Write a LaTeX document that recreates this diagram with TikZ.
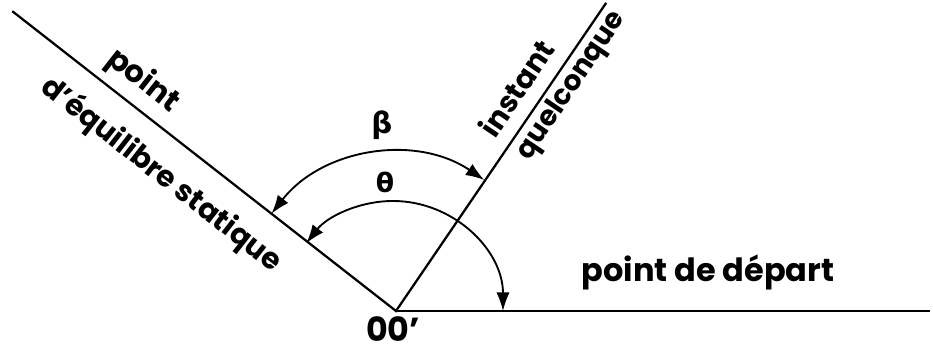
\documentclass[tikz,border=0pt]{standalone}
\usepackage{fontspec}
\setmainfont{Poppins}
\newfontfamily\greekfont{DejaVu Sans}
\usetikzlibrary{arrows.meta}

\begin{document}
\begin{tikzpicture}[x=0.75pt,y=0.75pt,
  axe/.style={line width=1.7pt},
  angle/.style={line width=1.4pt,{Latex[length=14pt,width=10pt]}-{Latex[length=14pt,width=10pt]}},
  lbl/.style={font=\bfseries\fontsize{22}{24}\selectfont,inner sep=1pt}]
  \useasboundingbox (-396,-37) rectangle (537,311);
  \coordinate (O) at (0,0);
  \coordinate (E) at (142:487);
  \coordinate (I) at (55.7:373);
  \coordinate (D) at (534,0);

  % les trois positions
  \draw[axe] (E) -- (O) -- (I);
  \draw[axe] (O) -- (D);

  % angles
  \draw[angle] (142:158) arc[start angle=142,end angle=56,radius=158];
  \draw[angle] (0:107) arc[start angle=0,end angle=142,radius=110];
  \node[lbl,font=\greekfont\bfseries\fontsize{22}{24}\selectfont] (beta) at (-14,186) {β};
  \node[lbl,font=\greekfont\bfseries\fontsize{20}{24}\selectfont] (theta) at (-11,129) {θ};

  \node[lbl,font=\bfseries\fontsize{23}{24}\selectfont,rotate=-38] (eq1) at (-253,230) {point};
  \node[lbl,rotate=-38] (eq2) at (-235,136) {d'équilibre statique};
  \node[lbl,rotate=56] (inst1) at (120,223) {instant};
  \node[lbl,font=\bfseries\fontsize{21}{24}\selectfont,rotate=56] (inst2) at (176,225) {quelconque};
  \node[lbl,font=\bfseries\fontsize{24}{24}\selectfont,anchor=base west] (dep) at (184,29) {point de départ};
  \node[lbl,font=\bfseries\fontsize{25}{26}\selectfont,anchor=base,inner sep=0pt] (orig) at (-3,-31) {00'};
\end{tikzpicture}
\end{document}
